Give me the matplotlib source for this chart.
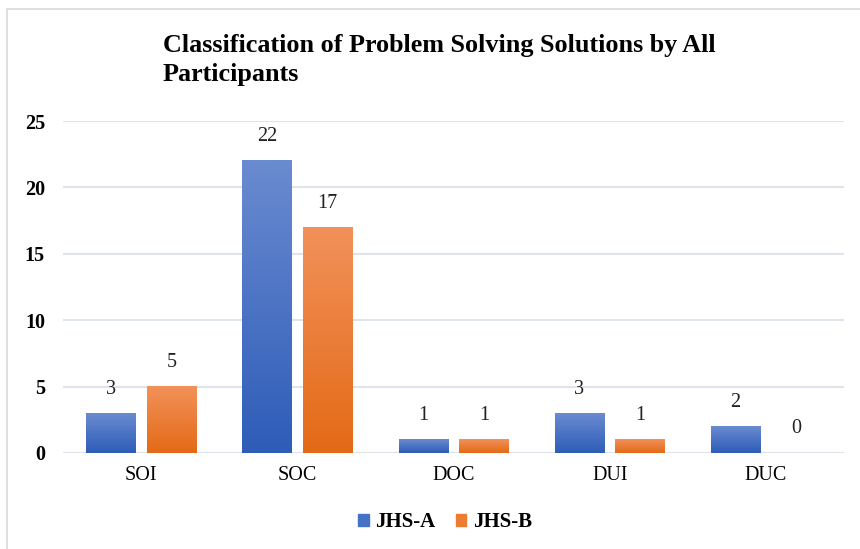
import numpy as np
import matplotlib.pyplot as plt
from matplotlib.colors import LinearSegmentedColormap
from matplotlib.patches import Rectangle

categories = ['SOI', 'SOC', 'DOC', 'DUI', 'DUC']
jhs_a = [3, 22, 1, 3, 2]
jhs_b = [5, 17, 1, 1, 0]
series_names = ['JHS-A', 'JHS-B']
yticks = [0, 5, 10, 15, 20, 25]

plt.rcParams['font.family'] = ['Liberation Serif', 'DejaVu Serif']

fig = plt.figure(figsize=(8.6, 5.49), dpi=100)
ax = fig.add_axes([63 / 860, 1 - 453 / 549, 781 / 860, 332 / 549])

# light frame around the chart (cut off on right/bottom like the reference)
fig.patches.append(Rectangle((7 / 860, -0.1), 1.2, 1 - 9 / 549 + 0.1,
                             transform=fig.transFigure, fill=False,
                             edgecolor='#d9d9d9', linewidth=1.2))

cmap_a = LinearSegmentedColormap.from_list('a', ['#2e5cb8', '#6a8bd0'])
cmap_b = LinearSegmentedColormap.from_list('b', ['#e36a16', '#f2915a'])
grad = np.linspace(0, 1, 256).reshape(-1, 1)

x = np.arange(len(categories))
width = 0.314
offset = 0.194

for vals, cmap, dx in [(jhs_a, cmap_a, -offset), (jhs_b, cmap_b, offset)]:
    for xi, v in zip(x, vals):
        left = xi + dx - width / 2
        if v > 0:
            ax.imshow(grad, cmap=cmap, origin='lower', aspect='auto',
                      extent=(left, left + width, 0, v), zorder=2)
        ax.text(xi + dx, v + 1.1, str(v), ha='center', va='bottom',
                fontsize=14.5, color='#222222')

ax.set_xlim(-0.5, len(categories) - 0.5)
ax.set_ylim(0, 25)
ax.set_yticks(yticks)
ax.set_yticklabels([str(t) for t in yticks], fontweight='bold', fontsize=14.5)
ax.set_xticks(x)
ax.set_xticklabels(categories, fontsize=14.5)
ax.tick_params(length=0, pad=9)
ax.tick_params(axis='y', pad=13)
ax.grid(axis='y', color='#dfe3ea', linewidth=1.5, zorder=0)
ax.set_axisbelow(True)
for s in ax.spines.values():
    s.set_visible(False)

fig.text(163 / 860, 1 - 34 / 549,
         'Classification of Problem Solving Solutions by All\nParticipants',
         fontsize=18.8, fontweight='bold', ha='left', va='top', linespacing=1.35)

handles = [Rectangle((0, 0), 1, 1, color='#4472c4'),
           Rectangle((0, 0), 1, 1, color='#ed7d31')]
fig.legend(handles, series_names, loc='center', bbox_to_anchor=(445 / 860, 1 - 522 / 549),
           ncol=2, frameon=False, prop={'weight': 'bold', 'size': 15},
           handlelength=0.5, handleheight=0.5, handletextpad=0.3, columnspacing=1.0)

fig.savefig('out.png', dpi=100)
